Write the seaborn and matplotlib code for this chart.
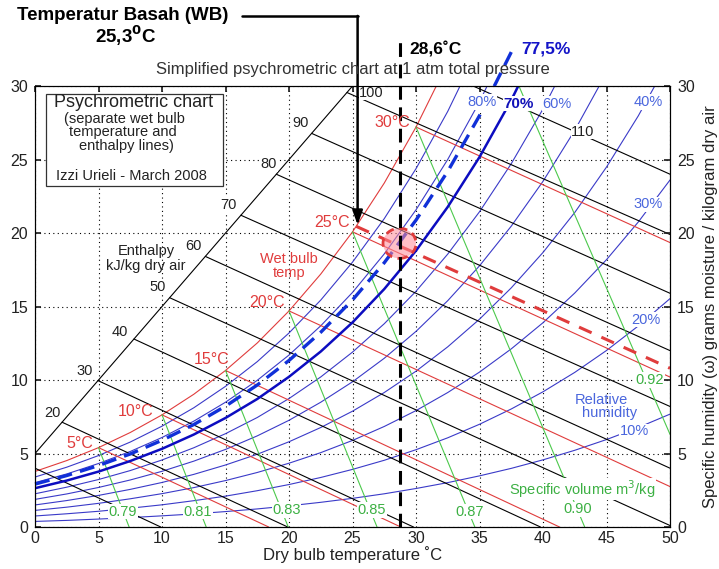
import matplotlib
matplotlib.use("Agg")
import matplotlib.pyplot as plt
import pandas as pd
import seaborn as sns
from matplotlib.patches import Ellipse, Rectangle

NAN = float("nan")

# dry bulb grid (deg C) for the humidity curves
T_GRID = [0, 2.5, 5, 7.5, 10, 12.5, 15, 17.5, 20, 22.5, 25, 27.5, 30,
          32.5, 35, 37.5, 40, 42.5, 45, 47.5, 50]

# specific humidity (g/kg)
RH_10 = [0.38, 0.45, 0.54, 0.64, 0.76, 0.89, 1.05, 1.23, 1.44, 1.68, 1.95, 2.26, 2.62,
         3.02, 3.48, 3.99, 4.57, 5.22, 5.95, 6.77, 7.68]
RH_20 = [0.75, 0.90, 1.07, 1.28, 1.51, 1.79, 2.10, 2.47, 2.89, 3.37, 3.92, 4.54, 5.26,
         6.07, 6.99, 8.03, 9.20, 10.52, 12.01, 13.68, 15.54]
RH_30 = [1.13, 1.35, 1.61, 1.92, 2.27, 2.68, 3.16, 3.71, 4.34, 5.06, 5.89, 6.84, 7.92,
         9.15, 10.54, 12.12, 13.90, 15.92, 18.19, 20.75, 23.61]
RH_40 = [1.50, 1.80, 2.15, 2.56, 3.03, 3.58, 4.22, 4.95, 5.80, 6.77, 7.88, 9.15, 10.60,
         12.26, 14.14, 16.27, 18.68, 21.40, 24.49, 27.97, 31.89]
RH_50 = [1.88, 2.25, 2.69, 3.20, 3.79, 4.48, 5.28, 6.20, 7.26, 8.49, 9.88, 11.48, 13.31,
         15.40, 17.77, 20.47, 23.52, 26.99, 30.91, NAN, NAN]
RH_60 = [2.26, 2.71, 3.23, 3.84, 4.56, 5.39, 6.35, 7.45, 8.74, 10.21, 11.90, 13.83, 16.04,
         18.57, 21.45, 24.72, 28.44, 32.67, NAN, NAN, NAN]
RH_70 = [2.64, 3.16, 3.77, 4.49, 5.32, 6.29, 7.42, 8.71, 10.22, 11.94, 13.92, 16.19, 18.80,
         21.78, 25.17, 29.04, 33.44, NAN, NAN, NAN, NAN]
RH_775 = [2.92, 3.50, 4.18, 4.97, 5.90, 6.97, 8.22, 9.66, 11.33, 13.25, 15.45, 17.98, 20.88,
          24.20, 27.99, 32.31, NAN, NAN, NAN, NAN, NAN]
RH_80 = [3.02, 3.61, 4.32, 5.14, 6.09, 7.20, 8.49, 9.98, 11.70, 13.69, 15.96, 18.58, 21.58,
         25.01, 28.93, 33.41, NAN, NAN, NAN, NAN, NAN]
RH_90 = [3.40, 4.07, 4.86, 5.78, 6.86, 8.11, 9.57, 11.25, 13.20, 15.44, 18.02, 20.98, 24.38,
         28.28, 32.74, NAN, NAN, NAN, NAN, NAN, NAN]
SATURATION = [3.78, 4.52, 5.40, 6.43, 7.63, 9.03, 10.65, 12.52, 14.70, 17.21, 20.08, 23.40,
              27.21, 31.58, NAN, NAN, NAN, NAN, NAN, NAN, NAN]

# enthalpy lines (kJ/kg dry air): start and end points
H_VALUES = [10, 20, 30, 40, 50, 60, 70, 80, 90, 100, 110]
H_X0 = [0, 2.13, 4.96, 7.79, 10.60, 13.41, 16.21, 19.00, 21.78, 24.56, 34.5]
H_Y0 = [4.00, 7.13, 9.96, 12.79, 15.60, 18.41, 21.21, 24.00, 26.78, 29.56, 30]
H_X1 = [9.9, 19.9, 29.8, 39.8, 50, 50, 50, 50, 50, 50, 50]
H_Y1 = [0, 0, 0, 0, 0.1, 4.0, 8.2, 12.0, 15.9, 19.9, 24.0]
H_LABEL_X = [NAN, 1.34, 3.9, 6.7, 9.65, 12.5, 15.2, 18.4, 20.9, 26.5, 43.15]
H_LABEL_Y = [NAN, 7.75, 10.6, 13.3, 16.3, 19.1, 21.9, 24.7, 27.5, 29.55, 26.9]
ENTHALPY_AXIS_X = [0, 25]
ENTHALPY_AXIS_Y = [5, 30]

# wet bulb lines (deg C)
WB_VALUES = [5, 10, 15, 20, 25, 30]
WB_X0 = [5, 10, 15, 20, 25, 30]
WB_Y0 = [5.40, 7.63, 10.65, 14.70, 20.08, 27.21]
WB_X1 = [18.4, 28.8, 41.3, 50, 50, 50]
WB_Y1 = [0, 0, 0, 2.75, 10.2, 19.35]
WB_LABEL_X = [3.5, 7.9, 13.9, 18.3, 23.4, 28.1]
WB_LABEL_Y = [5.7, 7.86, 11.4, 15.25, 20.7, 27.5]

# specific volume lines (m3/kg)
V_LABELS = ["0.79", "0.81", "0.83", "0.85", "0.87", "0.90", "0.92"]
V_X0 = [5, 10, 15, 20, 25, 30, 38.1]
V_Y0 = [5.40, 7.63, 10.65, 14.70, 20.08, 27.21, 30]
V_X1 = [7.41, 13.48, 19.94, 26.93, 34.63, 43.28, 50]
V_Y1 = [0, 0, 0, 0, 0, 0, 6.3]
V_LABEL_X = [6.9, 12.8, 19.8, 26.5, 34.2, 42.7, 48.4]
V_LABEL_Y = [1.05, 1.05, 1.15, 1.15, 1.05, 1.2, 10.0]

# relative humidity labels
RH_LABELS = ["80%", "60%", "40%", "30%", "20%", "10%"]
RH_LABEL_X = [35.2, 41.1, 48.3, 48.3, 48.1, 47.2]
RH_LABEL_Y = [28.9, 28.8, 28.9, 21.95, 14.1, 6.5]

# marked state: 28.6 C dry bulb, 77.5 % RH, wet bulb 25.3 C
MARK_T = 28.7
MARK_W = 19.3
MARK_WB_LINE_X = [25.3, 50]
MARK_WB_LINE_Y = [20.45, 10.8]

RED = "#e03c3c"
GREEN = "#4cc94c"
BLUE = "#3a3ac8"
LABEL_BLUE = "#4a66dd"

sns.set_theme(style="white")
plt.rcParams["font.family"] = ["Liberation Sans", "DejaVu Sans"]
plt.rcParams["axes.edgecolor"] = "black"
plt.rcParams["axes.linewidth"] = 0.8

fig = plt.figure(figsize=(7.19, 5.69), dpi=100)
ax = fig.add_axes([0.0487, 0.0738, 0.8832, 0.7750])


def curves_frame(curves):
    rows = []
    for level, ws in curves:
        for t, w in zip(T_GRID, ws):
            if w == w:
                rows.append({"level": level, "T": t, "w": w})
    return pd.DataFrame(rows)


def segments_frame(keys, x0, y0, x1, y1):
    return pd.DataFrame({
        "level": list(keys) * 2,
        "T": list(x0) + list(x1),
        "w": list(y0) + list(y1),
    })


line_kws = dict(estimator=None, sort=False, ax=ax, legend=False)

# relative humidity curves
thin_rh = curves_frame([(10, RH_10), (20, RH_20), (30, RH_30), (40, RH_40),
                        (50, RH_50), (60, RH_60), (80, RH_80), (90, RH_90)])
sns.lineplot(data=thin_rh, x="T", y="w", units="level", color=BLUE, lw=0.8, zorder=2, **line_kws)
sat = curves_frame([(100, SATURATION)])
sns.lineplot(data=sat, x="T", y="w", units="level", color=RED, lw=0.8, zorder=2, **line_kws)

# enthalpy, wet bulb and specific volume lines
sns.lineplot(data=segments_frame(H_VALUES, H_X0, H_Y0, H_X1, H_Y1), x="T", y="w",
             units="level", color="black", lw=0.8, zorder=2, **line_kws)
sns.lineplot(x=ENTHALPY_AXIS_X, y=ENTHALPY_AXIS_Y, color="black", lw=0.8, zorder=2, **line_kws)
sns.lineplot(data=segments_frame(WB_VALUES, WB_X0, WB_Y0, WB_X1, WB_Y1), x="T", y="w",
             units="level", color=RED, lw=0.8, zorder=2, **line_kws)
sns.lineplot(data=segments_frame(V_LABELS, V_X0, V_Y0, V_X1, V_Y1), x="T", y="w",
             units="level", color=GREEN, lw=0.8, zorder=2, **line_kws)

# highlighted state
rh70 = curves_frame([(70, RH_70)])
sns.lineplot(data=rh70, x="T", y="w", color="#0c0cc0", lw=1.8, zorder=3, **line_kws)
rh775 = curves_frame([(77.5, RH_775)])
sns.lineplot(data=rh775, x="T", y="w", color="#1030d8", lw=2.4, linestyle=(0, (4.5, 2.5)),
             zorder=3, clip_on=False, **line_kws)
sns.lineplot(x=MARK_WB_LINE_X, y=MARK_WB_LINE_Y, color=RED, lw=2.2,
             linestyle=(0, (4.5, 3.5)), zorder=3, **line_kws)
sns.lineplot(x=[MARK_T, MARK_T], y=[0, 33.0], color="black", lw=2.2,
             linestyle=(0, (4.5, 2.5)), zorder=5, clip_on=False, **line_kws)
ax.add_patch(Ellipse((MARK_T, MARK_W), 2.6, 2.05, facecolor=(1.0, 0.55, 0.6, 0.55),
                     edgecolor=RED, lw=2.0, linestyle=(0, (3, 2)), zorder=4))

# labels on the lines
bg = dict(facecolor="white", edgecolor="none", pad=0.5)
for txt, x, y in zip(H_VALUES, H_LABEL_X, H_LABEL_Y):
    if x == x:
        ax.text(x, y, str(txt), ha="center", va="center", fontsize=10.5,
                color="#222222", bbox=bg, zorder=6)
for t, x, y in zip(WB_VALUES, WB_LABEL_X, WB_LABEL_Y):
    ax.text(x, y, f"{t}°C", ha="center", va="center", fontsize=11.5, color=RED, zorder=6)
for txt, x, y in zip(V_LABELS, V_LABEL_X, V_LABEL_Y):
    ax.text(x, y, txt, ha="center", va="center", fontsize=10.5, color="#3cb043",
            bbox=bg, zorder=6)
for txt, x, y in zip(RH_LABELS, RH_LABEL_X, RH_LABEL_Y):
    ax.text(x, y, txt, ha="center", va="center", fontsize=10.5, color=LABEL_BLUE,
            bbox=bg, zorder=6)
ax.text(38.1, 28.8, "70%", ha="center", va="center", fontsize=11, color="#1212b8",
        fontweight="bold", bbox=bg, zorder=6)
ax.text(44.6, 8.66, "Relative", ha="center", va="center", fontsize=10.5, color=LABEL_BLUE, zorder=6)
ax.text(45.2, 7.75, "humidity", ha="center", va="center", fontsize=10.5, color=LABEL_BLUE, zorder=6)
ax.text(43.1, 2.6, "Specific volume m$^3$/kg", ha="center", va="center", fontsize=10.5,
        color="#3cb043", bbox=dict(facecolor="white", edgecolor="none", pad=0.1), zorder=7)
ax.text(8.75, 18.8, "Enthalpy", ha="center", va="center", fontsize=10.5, color="#222222", zorder=6)
ax.text(8.75, 17.75, "kJ/kg dry air", ha="center", va="center", fontsize=10.5,
        color="#222222", zorder=6)
ax.text(20.0, 18.2, "Wet bulb", ha="center", va="center", fontsize=10.5, color=RED, zorder=6)
ax.text(20.0, 17.3, "temp", ha="center", va="center", fontsize=10.5, color=RED, zorder=6)

# info box
ax.add_patch(Rectangle((0.88, 23.2), 13.9, 6.25, facecolor="white", edgecolor="#333333",
                       lw=0.9, zorder=6))
ax.text(7.76, 28.9, "Psychrometric chart", ha="center", va="center", fontsize=13,
        color="#222222", zorder=7)
ax.text(7.05, 27.74, "(separate wet bulb", ha="center", va="center", fontsize=10.5,
        color="#222222", zorder=7)
ax.text(6.9, 26.85, "temperature and", ha="center", va="center", fontsize=10.5,
        color="#222222", zorder=7)
ax.text(7.2, 25.9, "enthalpy lines)", ha="center", va="center", fontsize=10.5,
        color="#222222", zorder=7)
ax.text(7.6, 23.9, "Izzi Urieli - March 2008", ha="center", va="center", fontsize=10.5,
        color="#222222", zorder=7)

# annotations above the chart
ax.text(-1.38, 34.77, "Temperatur Basah (WB)", ha="left", va="center", fontsize=13.5,
        fontweight="bold", color="black")
ax.text(7.13, 33.4, r"25,3$^{\mathbf{0}}$C", ha="center", va="center", fontsize=13.5,
        fontweight="bold", color="black")
ax.plot([16.3, 25.4], [34.77, 34.77], color="black", lw=1.8, clip_on=False)
ax.annotate("", xy=(25.4, 20.55), xytext=(25.4, 34.77), annotation_clip=False,
            arrowprops=dict(arrowstyle="-|>,head_length=0.7,head_width=0.25", color="black",
                            lw=1.8, shrinkA=0, shrinkB=0))
ax.text(29.5, 32.5, "28,6˚C", ha="left", va="center", fontsize=12.5, fontweight="bold",
        color="black")
ax.text(38.3, 32.5, "77,5%", ha="left", va="center", fontsize=12.5, fontweight="bold",
        color="#1414c8")

# axes, grid, ticks
ax.set_xlim(0, 50)
ax.set_ylim(0, 30)
ax.set_xticks(range(0, 51, 5))
ax.set_yticks(range(0, 31, 5))
ax.grid(True, color="black", linestyle=(0, (1, 3)), linewidth=0.8)
ax.set_axisbelow(True)
ax.tick_params(direction="in", top=True, right=False, length=4, labelsize=11.5, pad=5,
               colors="#222222")
ax.tick_params(axis="x", pad=3)
ax.set_xlabel("Dry bulb temperature ˚C", fontsize=12, color="#222222", labelpad=0)
ax.set_ylabel("")
ax.set_title("Simplified psychrometric chart at 1 atm total pressure", fontsize=12,
             color="#333333", pad=9)

ax2 = ax.twinx()
ax2.set_ylim(0, 30)
ax2.set_yticks(range(0, 31, 5))
ax2.tick_params(direction="in", length=4, labelsize=11.5, pad=5, colors="#222222")
ax2.set_ylabel("Specific humidity (ω) grams moisture / kilogram dry air", fontsize=12,
               color="#222222", labelpad=6)
for a in (ax, ax2):
    for s in a.spines.values():
        s.set_color("black")
        s.set_linewidth(0.8)

fig.savefig("out.png", dpi=100)
